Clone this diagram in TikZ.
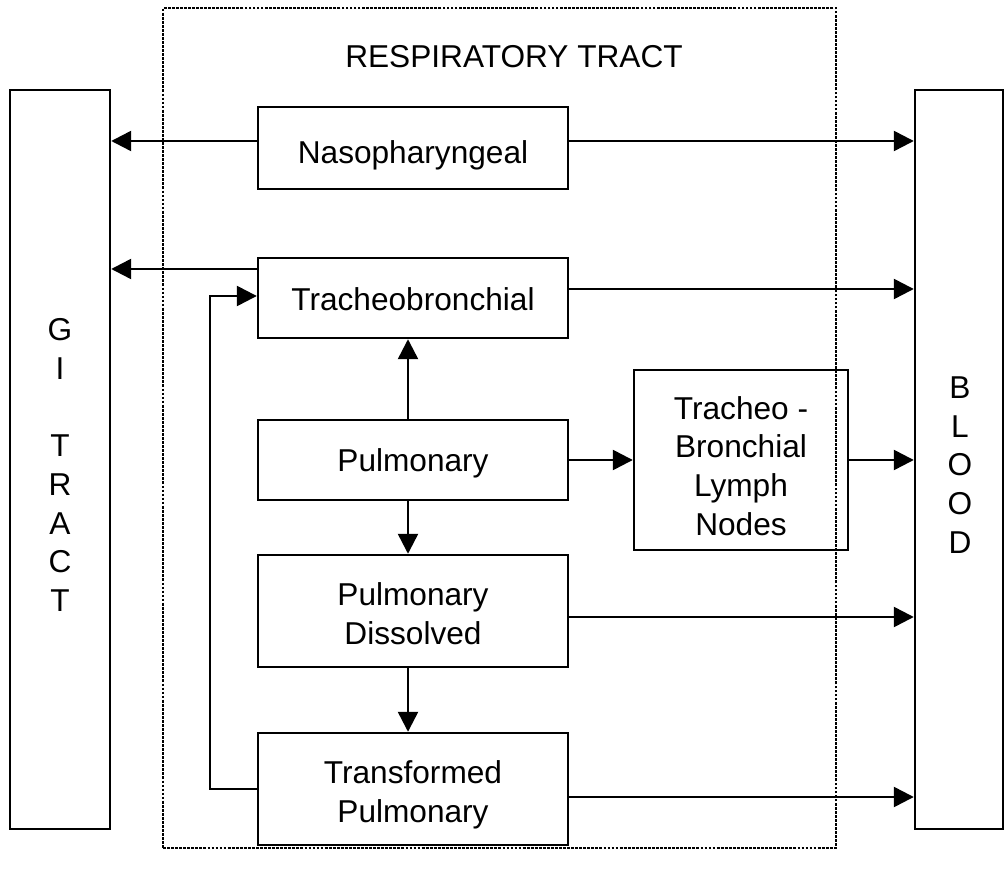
\documentclass[tikz,border=0pt]{standalone}
\usepackage{fontspec}
\setmainfont{Liberation Sans}
\usepackage{tikz}
\usetikzlibrary{positioning}
\usetikzlibrary{arrows.meta}

\begin{document}
\begin{tikzpicture}[x=0.02cm,y=-0.02cm,line width=1.4pt,
  box/.style={rectangle,draw=black,inner sep=0pt},
  txt/.style={align=center,inner sep=0pt,font=\fontsize{18}{22}\selectfont},
  arr/.style={-{Triangle[length=0.4cm,width=0.4cm]}}]
\useasboundingbox (0,0) rectangle (1004,881);

% respiratory tract frame
\node at (499.5,428) [rectangle,draw=black,line width=1.6pt,dash pattern=on 1.6pt off 0.7pt,
  minimum width=13.46cm,minimum height=16.8cm] (resp) {};
\node at (514,57) [txt] (title) {RESPIRATORY TRACT};

% side compartments
\node at (60,459.5) [box,minimum width=2cm,minimum height=14.78cm] (gi) {};
\node at (60,465) [txt] (gitext) {G\\I\\[22pt]T\\R\\A\\C\\T};
\node at (959,459.5) [box,minimum width=1.76cm,minimum height=14.78cm] (blood) {};
\node at (960,465) [txt] (bloodtext) {B\\L\\O\\O\\D};

% lung compartments
\node at (413,148) [box,minimum width=6.2cm,minimum height=1.64cm] (naso) {};
\node at (413,155) [txt] (nasotext) {Nasopharyngeal};
\node at (413,298) [box,minimum width=6.2cm,minimum height=1.6cm] (tracheo) {};
\node at (413,299) [txt] (tracheotext) {Tracheobronchial};
\node at (413,460) [box,minimum width=6.2cm,minimum height=1.6cm] (pulm) {};
\node at (413,463) [txt] (pulmtext) {Pulmonary};
\node at (741,460) [box,minimum width=4.28cm,minimum height=3.6cm] (lymph) {};
\node at (741,466) [txt] (lymphtext) {Tracheo -\\
                                      Bronchial\\
                                      Lymph\\
                                      Nodes};
\node at (413,611) [box,minimum width=6.2cm,minimum height=2.24cm] (dissolved) {};
\node at (413,614) [txt] (dissolvedtext) {Pulmonary\\
                                          Dissolved};
\node at (413,789) [box,minimum width=6.2cm,minimum height=2.24cm] (transformed) {};
\node at (413,795) [txt] (transformedtext) {Transformed\\
                                            Pulmonary};

\coordinate (loopbot) at (210,789);
\coordinate (looptop) at (210,296);

\draw[arr] (naso.west |- 0,141) -- (gi.east |- 0,141);
\draw[arr] (naso.east |- 0,141) -- (blood.west |- 0,141);
\draw[arr] (tracheo.west |- 0,269) -- (gi.east |- 0,269);
\draw[arr] (tracheo.east |- 0,289) -- (blood.west |- 0,289);
\draw[arr] (transformed.west |- loopbot) -- (loopbot) -- (looptop) -- (tracheo.west |- looptop);
\draw[arr] (pulm.north -| 408,0) -- (tracheo.south -| 408,0);
\draw[arr] (pulm.east) -- (lymph.west);
\draw[arr] (lymph.east) -- (blood.west |- lymph.east);
\draw[arr] (pulm.south -| 408,0) -- (dissolved.north -| 408,0);
\draw[arr] (dissolved.east |- 0,617) -- (blood.west |- 0,617);
\draw[arr] (dissolved.south -| 408,0) -- (transformed.north -| 408,0);
\draw[arr] (transformed.east |- 0,797) -- (blood.west |- 0,797);
\end{tikzpicture}
\end{document}
